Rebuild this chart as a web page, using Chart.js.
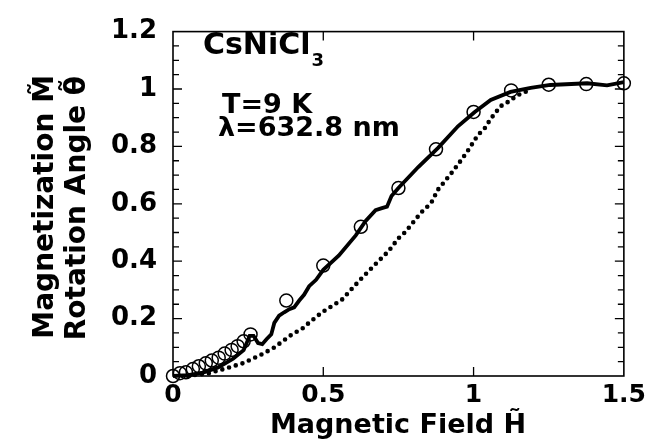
<!DOCTYPE html>
<html>
<head>
<meta charset="utf-8">
<script src="https://cdn.jsdelivr.net/npm/chart.js@4.4.1/dist/chart.umd.min.js"></script>
<style>
  html, body { margin: 0; padding: 0; background: #fff; }
  #wrap { width: 650px; height: 442px; }
</style>
</head>
<body>
<div id="wrap"><canvas id="myChart"></canvas></div>
<script>
const xTicks = [0, 0.5, 1, 1.5];
const xTickLabels = ['0', '0.5', '1', '1.5'];
const yTicks = [0, 0.2, 0.4, 0.6, 0.8, 1, 1.2];
const yTickLabels = ['0', '0.2', '0.4', '0.6', '0.8', '1', '1.2'];

// solid curve (rotation angle)
const angleH = [0, 0.05, 0.1, 0.15, 0.2, 0.235, 0.255, 0.268, 0.283, 0.297, 0.311, 0.327, 0.337, 0.353, 0.37, 0.387,
  0.403, 0.42, 0.436, 0.453, 0.476, 0.5, 0.552, 0.608, 0.641, 0.674, 0.695, 0.712, 0.727, 0.75, 0.816, 0.882,
  0.948, 1.004, 1.057, 1.123, 1.19, 1.255, 1.378, 1.444, 1.5];
const angleVal = [0, 0.003, 0.012, 0.03, 0.06, 0.09, 0.14, 0.14, 0.115, 0.111, 0.128, 0.145, 0.185, 0.21, 0.222, 0.233,
  0.239, 0.263, 0.283, 0.313, 0.335, 0.37, 0.42, 0.49, 0.54, 0.578, 0.585, 0.59, 0.627, 0.655, 0.728, 0.795,
  0.87, 0.92, 0.962, 0.99, 1.004, 1.014, 1.02, 1.013, 1.024];

// open circles (magnetization)
const magH = [0, 0.023, 0.043, 0.066, 0.086, 0.109, 0.129, 0.152, 0.172, 0.195, 0.215, 0.235, 0.258,
  0.377, 0.5, 0.625, 0.75, 0.875, 1.0, 1.125, 1.25, 1.375, 1.5];
const magVal = [0, 0.01, 0.013, 0.024, 0.034, 0.044, 0.054, 0.064, 0.078, 0.091, 0.104, 0.121, 0.145,
  0.263, 0.385, 0.52, 0.655, 0.79, 0.92, 0.995, 1.015, 1.017, 1.02];

// dotted curve
const dotH = [0.05, 0.12, 0.178, 0.231, 0.287, 0.335, 0.396, 0.43, 0.453, 0.496, 0.562, 0.618, 0.674, 0.717, 0.75,
  0.773, 0.826, 0.859, 0.882, 0.925, 0.958, 0.981, 1.014, 1.037, 1.057, 1.09, 1.113, 1.146, 1.19];
const dotVal = [0, 0.01, 0.027, 0.044, 0.071, 0.098, 0.145, 0.165, 0.186, 0.222, 0.266, 0.33, 0.39, 0.435, 0.48,
  0.502, 0.57, 0.603, 0.65, 0.705, 0.751, 0.785, 0.839, 0.863, 0.896, 0.94, 0.954, 0.978, 0.998];

const FONT = "'DejaVu Sans', sans-serif";
const toPoints = (xs, ys) => xs.map((x, i) => ({ x: x, y: ys[i] }));

const frame = {
  id: 'frame',
  afterDatasetsDraw(chart) {
    const { ctx, chartArea: a, scales: { x, y } } = chart;
    ctx.save();
    ctx.strokeStyle = '#000';
    ctx.lineWidth = 1.6;
    ctx.strokeRect(a.left, a.top, a.right - a.left, a.bottom - a.top);
    ctx.lineWidth = 1.3;
    ctx.beginPath();
    for (let k = 1; k < 24; k++) {
      const py = y.getPixelForValue(k * 0.05);
      const len = k % 4 === 0 ? 9 : 6;
      ctx.moveTo(a.left, py); ctx.lineTo(a.left + len, py);
      ctx.moveTo(a.right, py); ctx.lineTo(a.right - len, py);
    }
    xTicks.slice(1, -1).forEach(v => {
      const px = x.getPixelForValue(v);
      ctx.moveTo(px, a.bottom); ctx.lineTo(px, a.bottom - 9);
      ctx.moveTo(px, a.top); ctx.lineTo(px, a.top + 9);
    });
    ctx.stroke();
    ctx.restore();
  },
  afterDraw(chart) {
    const ctx = chart.ctx;
    ctx.save();
    ctx.fillStyle = '#000';
    ctx.textBaseline = 'alphabetic';

    // annotations
    ctx.font = 'bold 30px ' + FONT;
    ctx.textAlign = 'left';
    ctx.fillText('CsNiCl', 203, 54);
    const w = ctx.measureText('CsNiCl').width;
    ctx.font = 'bold 18px ' + FONT;
    ctx.fillText('3', 203 + w + 1, 66);
    ctx.font = 'bold 27px ' + FONT;
    ctx.fillText('T=9 K', 222, 113);
    ctx.fillText('\u03bb=632.8 nm', 218, 136);

    // x title
    ctx.textAlign = 'center';
    ctx.fillText('Magnetic Field H\u0303', 398, 433);

    // y titles
    ctx.font = 'bold 28px ' + FONT;
    ctx.textAlign = 'right';
    ctx.save();
    ctx.translate(53, 75);
    ctx.rotate(-Math.PI / 2);
    ctx.fillText('Magnetization M\u0303', 0, 0);
    ctx.restore();
    ctx.save();
    ctx.translate(85, 76);
    ctx.rotate(-Math.PI / 2);
    ctx.fillText('Rotation Angle \u03b8\u0303', 0, 0);
    ctx.restore();

    ctx.restore();
  }
};

const ctx = document.getElementById('myChart').getContext('2d');
const myChart = new Chart(ctx, {
  type: 'scatter',
  data: {
    datasets: [
      {
        label: 'Magnetization',
        data: toPoints(magH, magVal),
        showLine: false,
        pointStyle: 'circle',
        pointRadius: 6.5,
        pointBorderWidth: 1.5,
        pointBorderColor: '#000',
        pointBackgroundColor: 'rgba(0,0,0,0)',
        clip: false
      },
      {
        label: 'Rotation angle',
        data: toPoints(angleH, angleVal),
        showLine: true,
        borderColor: '#000',
        borderWidth: 3.8,
        pointRadius: 0,
        tension: 0,
        clip: false
      },
      {
        label: 'Rotation angle (dotted)',
        data: toPoints(dotH, dotVal),
        showLine: true,
        borderColor: '#000',
        borderWidth: 4.6,
        borderDash: [0, 7],
        borderCapStyle: 'round',
        pointRadius: 0,
        tension: 0,
        clip: false
      }
    ]
  },
  options: {
    responsive: true,
    maintainAspectRatio: false,
    animation: false,
    devicePixelRatio: 1,
    layout: { padding: { top: 20, right: 23, left: 0, bottom: 0 } },
    plugins: { legend: { display: false }, tooltip: { enabled: false } },
    scales: {
      x: {
        type: 'linear',
        min: 0,
        max: 1.5,
        afterBuildTicks: s => { s.ticks = xTicks.map(v => ({ value: v })); },
        afterFit: s => { s.height = 66; },
        grid: { display: false, drawTicks: false },
        border: { display: false },
        ticks: {
          color: '#000', padding: 4, maxRotation: 0,
          font: { family: FONT, size: 25, weight: 'bold' },
          callback: (v) => xTickLabels[xTicks.indexOf(v)]
        }
      },
      y: {
        min: 0,
        max: 1.2,
        afterBuildTicks: s => { s.ticks = yTicks.map(v => ({ value: v })); },
        afterFit: s => { s.width = 173; },
        grid: { display: false, drawTicks: false },
        border: { display: false },
        ticks: {
          color: '#000', padding: 16,
          font: { family: FONT, size: 26, weight: 'bold' },
          callback: (v) => yTickLabels[yTicks.indexOf(v)]
        }
      }
    }
  },
  plugins: [frame]
});
</script>
</body>
</html>
